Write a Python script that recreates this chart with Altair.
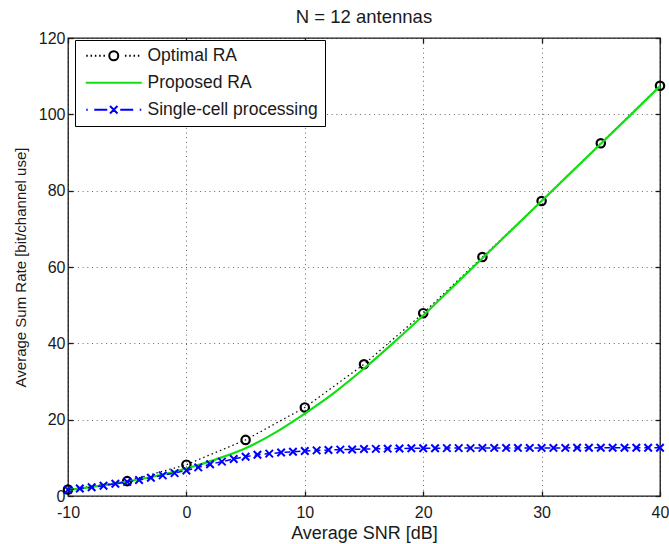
import altair as alt
import pandas as pd

# ---------------- data ----------------
series_names = ["Optimal RA", "Proposed RA", "Single-cell processing"]
series_colors = ["#000000", "#10e010", "#0000ff"]

snr_opt = [-10, -5, 0, 5, 10, 15, 20, 25, 30, 35, 40]
rate_opt = [1.7, 3.9, 8.2, 14.7, 23.2, 34.5, 47.9, 62.6, 77.3, 92.4, 107.5]

snr_prop = [-10, -7.5, -5, -2.5, 0, 2.5, 5, 7.5, 10, 12.5, 15, 17.5, 20,
            22.5, 25, 27.5, 30, 32.5, 35, 37.5, 40]
rate_prop = [1.6, 2.6, 3.8, 5.3, 7.2, 9.6, 12.5, 16.6, 21.6, 27.1, 33.4, 40.2, 47.3,
             54.8, 62.3, 69.8, 77.3, 84.8, 92.3, 99.8, 107.4]

snr_sc = list(range(-10, 41))
rate_sc = [1.6, 1.95, 2.3, 2.7, 3.2, 3.7, 4.2, 4.8, 5.4, 6.0, 6.7,
           7.5, 8.3, 9.0, 9.7, 10.3, 10.8, 11.1, 11.4, 11.6, 11.8,
           11.95, 12.05, 12.15, 12.2, 12.3, 12.35, 12.4, 12.45, 12.5, 12.5,
           12.5, 12.55, 12.55, 12.55, 12.6, 12.6, 12.6, 12.6, 12.6, 12.6,
           12.6, 12.6, 12.65, 12.65, 12.65, 12.65, 12.65, 12.65, 12.65, 12.65]

x_ticks = [-10, 0, 10, 20, 30, 40]
y_ticks = [0, 20, 40, 60, 80, 100, 120]

title_text = "N = 12 antennas"
x_title = "Average SNR [dB]"
y_title = "Average Sum Rate [bit/channel use]"

df_opt = pd.DataFrame({"snr": snr_opt, "rate": rate_opt, "series": series_names[0]})
df_prop = pd.DataFrame({"snr": snr_prop, "rate": rate_prop, "series": series_names[1]})
df_sc = pd.DataFrame({"snr": snr_sc, "rate": rate_sc, "series": series_names[2]})

FONT = "Liberation Sans"
INWARD = {"expr": "-5"}

# ---------------- legend symbol paths (unit space) ----------------
def dotted(a, b, step, skip=None):
    parts = []
    x = a
    while x <= b + 1e-9:
        if skip is None or abs(x) > skip:
            parts.append(f"M{x:.2f},0L{x + 0.3:.2f},0")
        x += step
    return "".join(parts)

circle_path = "M-0.9,0A0.9,0.9 0 1,0 0.9,0A0.9,0.9 0 1,0 -0.9,0"
path_opt = dotted(-5.5, 5.5, 0.86, skip=1.45) + circle_path
path_prop = "M-5.6,0L5.6,0"
path_sc = ("M-5.5,0L-5.2,0M-3.9,0L-1.3,0"
           "M-0.75,-0.75L0.75,0.75M-0.75,0.75L0.75,-0.75"
           "M1.3,0L3.9,0M5.2,0L5.5,0")
x_marker = "M-1,-1L1,1M-1,1L1,-1"

symbol_expr = (
    f"datum.value === '{series_names[0]}' ? '{path_opt}' : "
    f"(datum.value === '{series_names[1]}' ? '{path_prop}' : '{path_sc}')"
)

# ---------------- scales & axes ----------------
x_scale = alt.Scale(domain=[-10, 40], nice=False, zero=False)
y_scale = alt.Scale(domain=[0, 120], nice=False, zero=False)

x_main = alt.X("snr:Q", scale=x_scale,
               axis=alt.Axis(values=x_ticks, title=x_title, labelExpr="'' + datum.value",
                             titleFontSize=18, titlePadding=4, labelPadding=13,
                             labelFlush=False, grid=True, ticks=True, tickSize=INWARD))
y_main = alt.Y("rate:Q", scale=y_scale,
               axis=alt.Axis(values=y_ticks, title=y_title, labelExpr="'' + datum.value",
                             titleFontSize=15, titlePadding=10, labelPadding=8,
                             labelFlush=False, grid=True, ticks=True, tickSize=INWARD))
x_top = alt.X("snr:Q", scale=x_scale,
              axis=alt.Axis(values=x_ticks, orient="top", title=None, labels=False,
                            grid=False, ticks=True, tickSize=INWARD))
y_right = alt.Y("rate:Q", scale=y_scale,
                axis=alt.Axis(values=y_ticks, orient="right", title=None, labels=False,
                              grid=False, ticks=True, tickSize=INWARD))
x_none = alt.X("snr:Q", scale=x_scale, axis=None)
y_none = alt.Y("rate:Q", scale=y_scale, axis=None)

legend = alt.Legend(
    title=None,
    orient="none",
    legendX=7,
    legendY=2,
    strokeColor="#000000",
    fillColor="#ffffff",
    padding=7,
    cornerRadius=0,
    labelFont=FONT,
    labelFontSize=17.5,
    labelColor="#1a1a1a",
    labelLimit=400,
    symbolSize=100,
    symbolStrokeWidth=2,
    symbolFillColor="transparent",
    symbolType={"expr": symbol_expr},
    symbolOffset=23,
    labelOffset=25,
    rowPadding=8,
)

color_enc = alt.Color(
    "series:N",
    scale=alt.Scale(domain=series_names, range=series_colors),
    legend=legend,
)

line_opt = alt.Chart(df_opt).mark_line(strokeDash=[1.5, 3], strokeWidth=1.2).encode(
    x=x_main, y=y_main, color=color_enc
)
pts_opt = alt.Chart(df_opt).mark_point(
    shape="circle", size=70, strokeWidth=2.2, filled=False, opacity=1
).encode(x=x_none, y=y_none, color=alt.value(series_colors[0]))

line_prop = alt.Chart(df_prop).mark_line(strokeWidth=2.2, interpolate="monotone").encode(
    x=x_none, y=y_none, color=color_enc
)

line_sc = alt.Chart(df_sc).mark_line(strokeDash=[6, 4], strokeWidth=1.5).encode(
    x=x_top, y=y_right, color=color_enc
)
pts_sc = alt.Chart(df_sc).mark_point(
    shape=x_marker, size=56, strokeWidth=2, filled=False, opacity=1
).encode(x=x_none, y=y_none, color=alt.value(series_colors[2]))

chart = (
    alt.layer(line_opt, pts_opt, line_prop, line_sc, pts_sc)
    .resolve_axis(x="independent", y="independent")
    .properties(
        width=592,
        height=458,
        title=alt.TitleParams(title_text, font=FONT, fontSize=18.5, fontWeight="normal",
                              color="#1a1a1a", offset=4),
        autosize=alt.AutoSizeParams(type="none"),
        padding={"left": 68, "top": 38, "right": 9, "bottom": 48},
    )
    .configure_view(stroke="#1a1a1a", strokeWidth=1.3)
    .configure_axis(
        labelFont=FONT,
        labelFontSize=16,
        labelColor="#1a1a1a",
        titleFont=FONT,
        titleFontWeight="normal",
        titleColor="#1a1a1a",
        domain=False,
        tickColor="#1a1a1a",
        tickWidth=1.3,
        gridColor="#000000",
        gridOpacity=0.6,
        gridDash=[1, 3.7],
        gridWidth=1,
    )
)

chart.save("out.html", embed_options={"renderer": "svg", "actions": False})
